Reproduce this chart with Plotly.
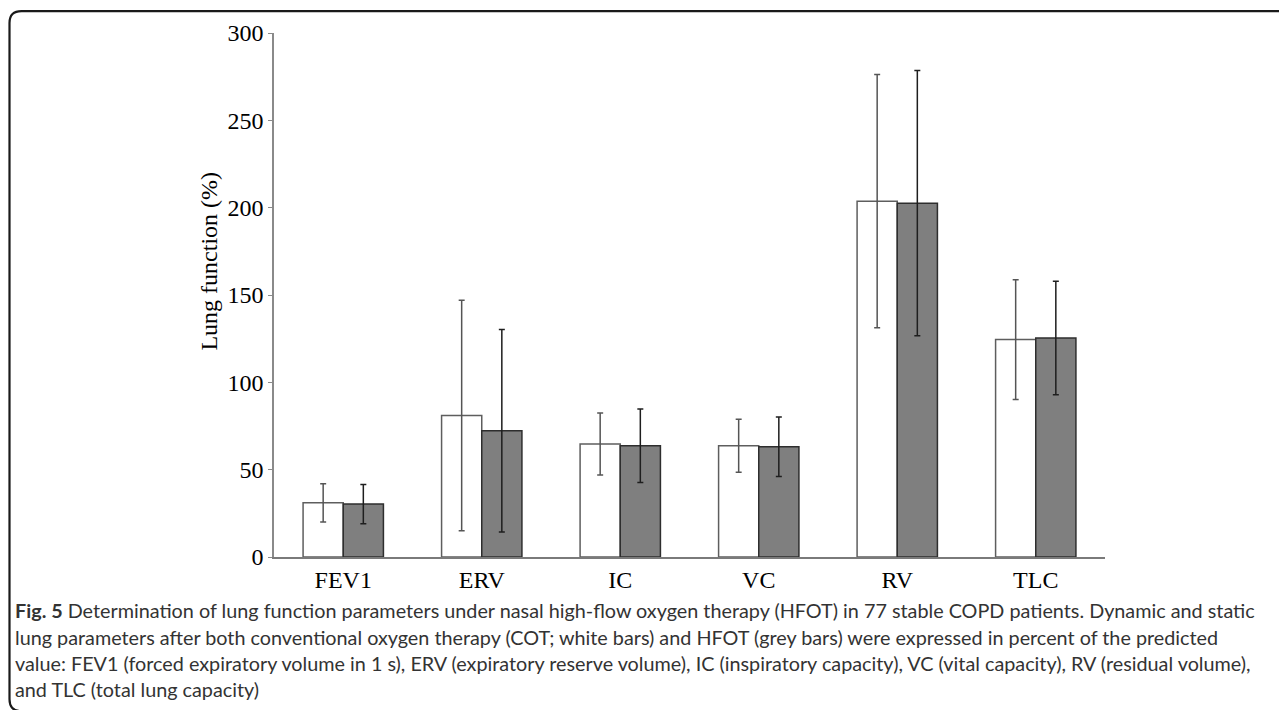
import plotly.graph_objects as go

# ---- data ----
categories = ["FEV1", "ERV", "IC", "VC", "RV", "TLC"]
cot_mean = [31.0, 81.0, 64.7, 63.7, 203.7, 124.5]
cot_sd = [11.0, 66.0, 17.8, 15.2, 72.5, 34.3]
hfot_mean = [30.3, 72.3, 63.7, 63.1, 202.6, 125.4]
hfot_sd = [11.2, 58.0, 21.0, 17.0, 76.0, 32.5]
y_ticks = [0, 50, 100, 150, 200, 250, 300]
y_title = "Lung function (%)"
caption_lines = [
    "<b>Fig. 5</b> Determination of lung function parameters under nasal high-flow oxygen therapy (HFOT) in 77 stable COPD patients. Dynamic and static",
    "lung parameters after both conventional oxygen therapy (COT; white bars) and HFOT (grey bars) were expressed in percent of the predicted",
    "value: FEV1 (forced expiratory volume in 1 s), ERV (expiratory reserve volume), IC (inspiratory capacity), VC (vital capacity), RV (residual volume),",
    "and TLC (total lung capacity)",
]

# the page body has an 8px default margin -> work in window pixels, subtract it
OFF = 8
W, H = 1287 - OFF, 710 - OFF
L, R, T, B = 274, 1105, 32.5, 557.5  # plot area in window pixels


def px_x(px):
    return (px - L) / (R - L)


def px_y(py):
    return (B - py) / (B - T)


serif = "Liberation Serif, Times New Roman, serif"
sans = "Lato, Open Sans, sans-serif"

fig = go.Figure()
fig.add_trace(go.Bar(
    x=categories, y=cot_mean, name="COT",
    marker=dict(color="white", line=dict(color="#5e5e5e", width=1.5)),
    error_y=dict(type="data", array=cot_sd, visible=True, color="#555555", thickness=1.5, width=3),
))
fig.add_trace(go.Bar(
    x=categories, y=hfot_mean, name="HFOT",
    marker=dict(color="#7f7f7f", line=dict(color="#2e2e2e", width=1.5)),
    error_y=dict(type="data", array=hfot_sd, visible=True, color="#1e1e1e", thickness=1.5, width=3),
))

# rounded frame (top & left visible, bottom-left corner just at the edge)
xl, yt, xr, yb, r = 9.5, 10.5, 1320, 712, 12
path = (
    f"M {px_x(xr)},{px_y(yb)} "
    f"L {px_x(xl + r)},{px_y(yb)} "
    f"Q {px_x(xl)},{px_y(yb)} {px_x(xl)},{px_y(yb - r)} "
    f"L {px_x(xl)},{px_y(yt + r)} "
    f"Q {px_x(xl)},{px_y(yt)} {px_x(xl + r)},{px_y(yt)} "
    f"L {px_x(xr)},{px_y(yt)}"
)
shapes = [dict(type="path", xref="paper", yref="paper", path=path,
               line=dict(color="#1a1a1a", width=2.2))]

annotations = [dict(
    text=y_title, xref="paper", yref="paper", x=px_x(209), y=px_y(261.5),
    textangle=-90, showarrow=False, xanchor="center", yanchor="middle",
    font=dict(family=serif, size=24, color="black"),
)]
caption_y = [611, 637.5, 663.5, 690]
for line, cy in zip(caption_lines, caption_y):
    annotations.append(dict(
        text=line, xref="paper", yref="paper", x=px_x(13), y=px_y(cy),
        xanchor="left", yanchor="middle", showarrow=False, align="left",
        font=dict(family=sans, size=19.8, color="#333333"),
    ))

fig.update_layout(
    width=W, height=H,
    margin=dict(l=L - OFF, r=W - (R - OFF), t=T - OFF, b=H - (B - OFF), pad=0),
    paper_bgcolor="white", plot_bgcolor="white",
    barmode="group", bargap=0.42, bargroupgap=0,
    showlegend=False,
    shapes=shapes, annotations=annotations,
    xaxis=dict(
        range=[-0.5, 5.5], showline=True, linecolor="#7a7a7a", linewidth=1.5,
        ticks="", showgrid=False, zeroline=False,
        tickfont=dict(family=serif, size=24, color="black"),
    ),
    yaxis=dict(
        range=[0, 300], tickvals=y_ticks, showline=True, linecolor="#8a8a8a", linewidth=1.5,
        ticks="outside", ticklen=4, tickwidth=1, tickcolor="#8a8a8a",
        showgrid=False, zeroline=False,
        tickfont=dict(family=serif, size=24, color="black"),
    ),
)

fig.write_html("out.html")
